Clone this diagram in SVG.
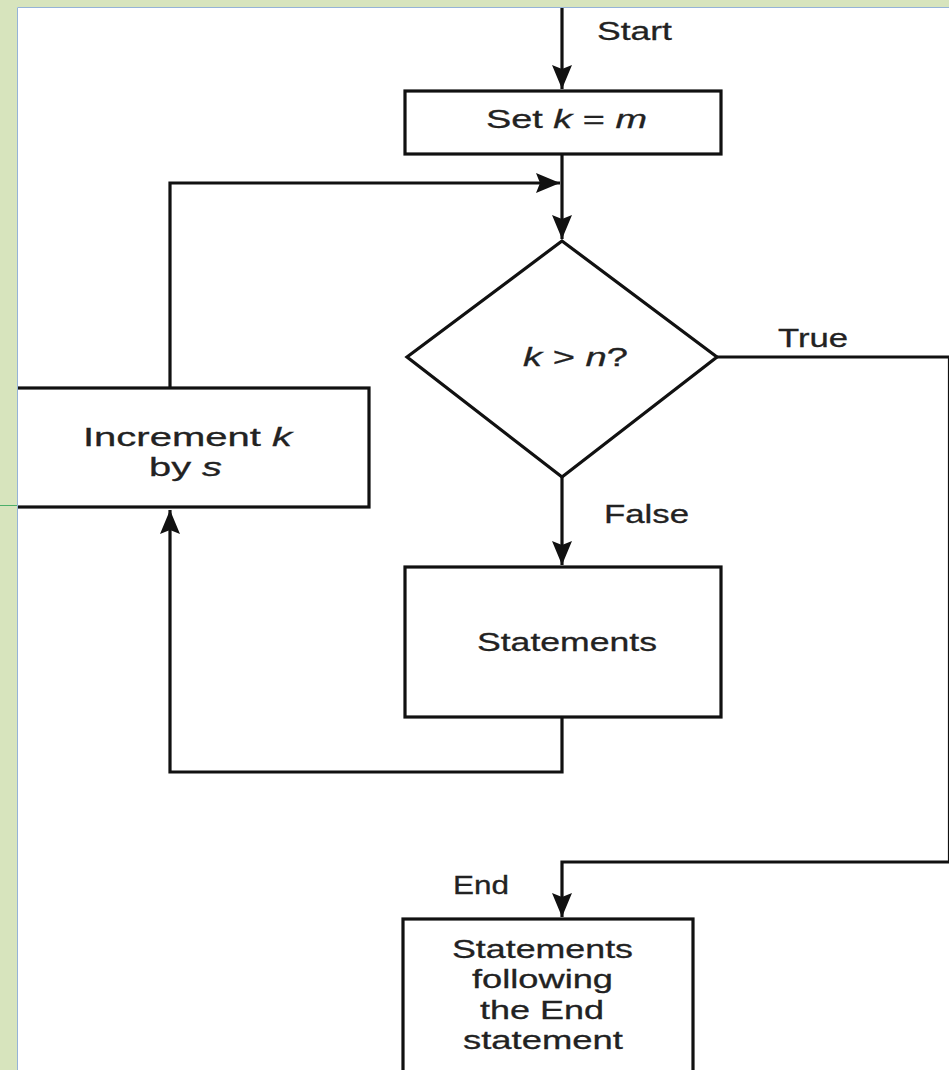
<svg xmlns="http://www.w3.org/2000/svg" width="949" height="1070" viewBox="0 0 949 1070">
  <style>
    .box { fill: #ffffff; stroke: #111; stroke-width: 3.2; }
    .wire { fill: none; stroke: #111; stroke-width: 3.2; }
    .lbl { font-family: "Liberation Sans", Arial, sans-serif; font-size: 26px; fill: #222; stroke: #222; stroke-width: 0.3; }
    .var { font-style: italic; }
  </style>
  <defs>
    <marker id="arrow" markerUnits="userSpaceOnUse" markerWidth="26" markerHeight="22" refX="24" refY="10" orient="auto">
      <path d="M0,0 L24,10 L0,20 L4,10 Z" fill="#111"/>
    </marker>
  </defs>

  <rect x="0" y="0" width="949" height="1070" fill="#ffffff"/>

  <!-- connectors -->
  <g id="connectors">
    <path class="wire" d="M562,8 V89" marker-end="url(#arrow)"/>
    <path class="wire" d="M562,154 V239" marker-end="url(#arrow)"/>
    <path class="wire" d="M170,388 V183 H560" marker-end="url(#arrow)"/>
    <path class="wire" d="M562,477 V565" marker-end="url(#arrow)"/>
    <path class="wire" d="M562,717 V772 H170 V510" marker-end="url(#arrow)"/>
    <path class="wire" d="M717,357 H949.5 V862 H562 V917" marker-end="url(#arrow)"/>
    <text class="lbl" x="597" y="40" textLength="75" lengthAdjust="spacingAndGlyphs">Start</text>
    <text class="lbl" x="778" y="347" textLength="70" lengthAdjust="spacingAndGlyphs">True</text>
    <text class="lbl" x="604" y="523" textLength="85" lengthAdjust="spacingAndGlyphs">False</text>
    <text class="lbl" x="453" y="894" textLength="56" lengthAdjust="spacingAndGlyphs">End</text>
  </g>

  <g id="set-k">
    <rect class="box" x="405" y="91" width="316" height="63"/>
    <text class="lbl" x="486" y="128" textLength="161" lengthAdjust="spacingAndGlyphs">Set  <tspan class="var">k</tspan> = <tspan class="var">m</tspan></text>
  </g>

  <g id="test">
    <polygon class="box" points="562,241 717,357 562,477 407,357"/>
    <text class="lbl" x="523" y="366" textLength="105" lengthAdjust="spacingAndGlyphs"><tspan class="var">k</tspan> &gt; <tspan class="var">n</tspan>?</text>
  </g>

  <g id="increment">
    <rect class="box" x="-4" y="388" width="373" height="119"/>
    <text class="lbl" x="83" y="446" textLength="209" lengthAdjust="spacingAndGlyphs">Increment <tspan class="var">k</tspan></text>
    <text class="lbl" x="149" y="476" textLength="73" lengthAdjust="spacingAndGlyphs">by <tspan class="var">s</tspan></text>
  </g>

  <g id="statements">
    <rect class="box" x="405" y="567" width="316" height="150"/>
    <text class="lbl" x="477" y="651" textLength="180" lengthAdjust="spacingAndGlyphs">Statements</text>
  </g>

  <g id="after-end">
    <rect class="box" x="403" y="919" width="290" height="160"/>
    <text class="lbl" x="452" y="958" textLength="181" lengthAdjust="spacingAndGlyphs">Statements</text>
    <text class="lbl" x="472" y="988" textLength="141" lengthAdjust="spacingAndGlyphs">following</text>
    <text class="lbl" x="480" y="1019" textLength="124" lengthAdjust="spacingAndGlyphs">the End</text>
    <text class="lbl" x="463" y="1049" textLength="160" lengthAdjust="spacingAndGlyphs">statement</text>
  </g>

  <!-- page frame -->
  <g id="frame">
    <rect x="0" y="0" width="949" height="7" fill="#d7e4bd"/>
    <rect x="0" y="0" width="17" height="1070" fill="#d7e4bd"/>
    <path d="M17.5,7.5 H949 M17.5,7.5 V1070" fill="none" stroke="#95b3d7" stroke-width="1"/>
    <path d="M0,505.5 H17" stroke="#4caf6a" stroke-width="1"/>
  </g>
</svg>
